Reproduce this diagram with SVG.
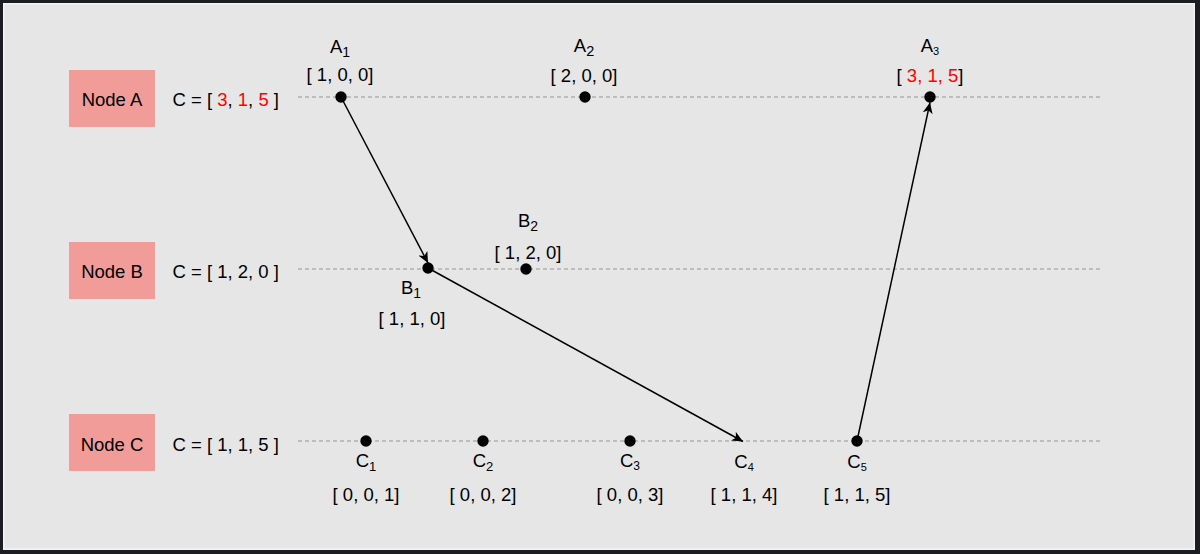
<svg xmlns="http://www.w3.org/2000/svg" width="1200" height="554" viewBox="0 0 1200 554">
<style>
text{font-family:"Liberation Sans",Arial,sans-serif;font-size:18.5px;fill:#000}
.mid{text-anchor:middle}
.red{fill:#ff0000}
.node rect{fill:#f29c99}
.tl{stroke:#939393;stroke-width:1.2;stroke-dasharray:4 3;fill:none}
.dot{fill:#000}
.edge{stroke:#000;stroke-width:1.5;fill:none;marker-end:url(#arr)}
</style>
<defs>
<marker id="arr" markerUnits="userSpaceOnUse" viewBox="0 0 11 10" refX="11" refY="5" markerWidth="11" markerHeight="10" orient="auto">
<path d="M0,0 L11,5 L0,10 L3,5 Z" fill="#000"/>
</marker>
</defs>
<rect x="0" y="0" width="1200" height="554" fill="#1b1d23"/>
<rect x="3" y="3" width="1192" height="547" fill="#f4f4f4"/>
<rect x="4.5" y="4.5" width="1189" height="544" fill="#e6e6e6"/>

<g id="timelines">
<line class="tl" x1="298" y1="97" x2="1103" y2="97"/>
<line class="tl" x1="298" y1="269" x2="1103" y2="269"/>
<line class="tl" x1="298" y1="441" x2="1103" y2="441"/>
</g>

<g id="nodeA" class="node">
<rect x="69" y="70" width="86" height="57"/>
<text class="mid" x="112" y="106">Node A</text>
<text x="172.5" y="106">C = [ <tspan class="red">3</tspan>, <tspan class="red">1</tspan>, <tspan class="red">5</tspan> ]</text>
</g>
<g id="nodeB" class="node">
<rect x="69" y="242" width="86" height="57"/>
<text class="mid" x="112" y="277.5">Node B</text>
<text x="172.5" y="277.5">C = [ 1, 2, 0 ]</text>
</g>
<g id="nodeC" class="node">
<rect x="69" y="414" width="86" height="57"/>
<text class="mid" x="112" y="451">Node C</text>
<text x="172.5" y="451">C = [ 1, 1, 5 ]</text>
</g>

<g id="connectors">
<line class="edge" x1="341" y1="97" x2="428" y2="263"/>
<line class="edge" x1="428" y1="268" x2="743" y2="441.5"/>
<line class="edge" x1="857" y1="441" x2="930" y2="102.5"/>
</g>

<g id="eventA1">
<circle class="dot" cx="341" cy="97" r="5.7"/>
<text class="mid" x="340" y="53">A<tspan font-size="14" dy="4">1</tspan></text>
<text class="mid" x="340" y="81">[ 1, 0, 0]</text>
</g>
<g id="eventA2">
<circle class="dot" cx="585" cy="97" r="5.7"/>
<text class="mid" x="584" y="52">A<tspan font-size="14.5" dy="4">2</tspan></text>
<text class="mid" x="584" y="82">[ 2, 0, 0]</text>
</g>
<g id="eventA3">
<circle class="dot" cx="930" cy="97" r="5.7"/>
<text class="mid" x="930" y="52">A<tspan font-size="11" dy="3">3</tspan></text>
<text class="mid" x="930" y="82">[ <tspan class="red">3, 1, 5</tspan>]</text>
</g>
<g id="eventB1">
<circle class="dot" cx="428" cy="268" r="5.7"/>
<text class="mid" x="411" y="294">B<tspan font-size="14" dy="4">1</tspan></text>
<text class="mid" x="412" y="325">[ 1, 1, 0]</text>
</g>
<g id="eventB2">
<circle class="dot" cx="526" cy="269" r="5.7"/>
<text class="mid" x="528" y="227">B<tspan font-size="14" dy="4">2</tspan></text>
<text class="mid" x="528" y="259">[ 1, 2, 0]</text>
</g>
<g id="eventC1">
<circle class="dot" cx="366" cy="441" r="5.7"/>
<text class="mid" x="366" y="467">C<tspan font-size="13" dy="4">1</tspan></text>
<text class="mid" x="366" y="501">[ 0, 0, 1]</text>
</g>
<g id="eventC2">
<circle class="dot" cx="483" cy="441" r="5.7"/>
<text class="mid" x="483" y="467">C<tspan font-size="13" dy="4">2</tspan></text>
<text class="mid" x="483" y="501">[ 0, 0, 2]</text>
</g>
<g id="eventC3">
<circle class="dot" cx="630" cy="441" r="5.7"/>
<text class="mid" x="630" y="467">C<tspan font-size="12" dy="3">3</tspan></text>
<text class="mid" x="630" y="501">[ 0, 0, 3]</text>
</g>
<g id="eventC4">
<text class="mid" x="744" y="468">C<tspan font-size="11" dy="3">4</tspan></text>
<text class="mid" x="744" y="500.5">[ 1, 1, 4]</text>
</g>
<g id="eventC5">
<circle class="dot" cx="857" cy="441" r="5.7"/>
<text class="mid" x="857" y="468">C<tspan font-size="11" dy="3">5</tspan></text>
<text class="mid" x="857" y="500.5">[ 1, 1, 5]</text>
</g>
</svg>
